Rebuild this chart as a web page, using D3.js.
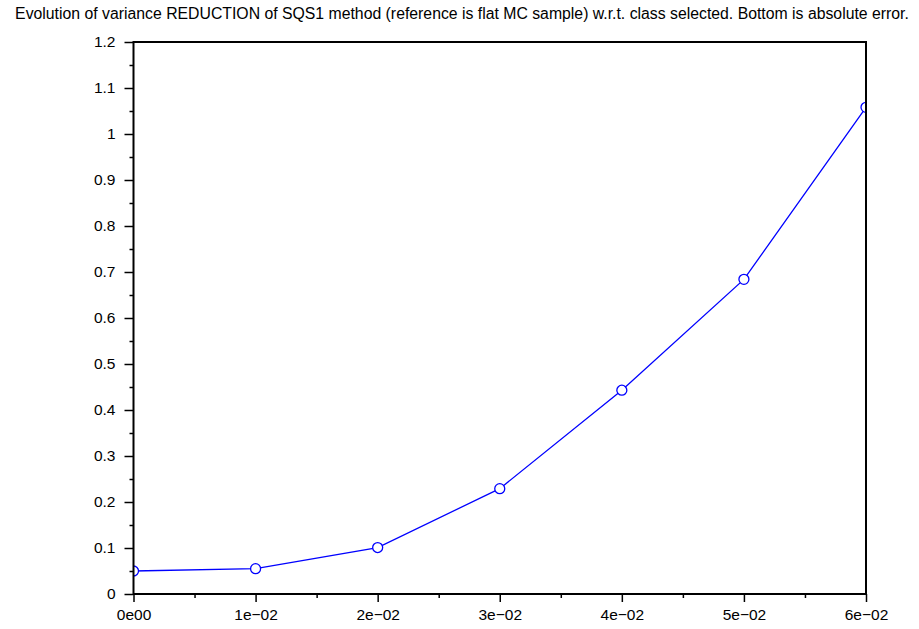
<!DOCTYPE html>
<html><head><meta charset="utf-8">
<script src="https://cdn.jsdelivr.net/npm/d3@7"></script>
<style>body{margin:0;background:#fff}svg{display:block;font-family:"Liberation Sans",Arial,sans-serif}</style>
</head><body>
<svg id="c" width="919" height="629"></svg>
<script>
const title = "Evolution of variance REDUCTION of SQS1 method (reference is flat MC sample) w.r.t. class selected. Bottom is absolute error.";
const xValues = [0, 0.01, 0.02, 0.03, 0.04, 0.05, 0.06];
const yValues = [0.050, 0.055, 0.101, 0.229, 0.443, 0.684, 1.058];
const xTickValues = [0, 0.01, 0.02, 0.03, 0.04, 0.05, 0.06];
const xTickLabels = ["0e00", "1e\u221202", "2e\u221202", "3e\u221202", "4e\u221202", "5e\u221202", "6e\u221202"];
const yTickValues = [0, 0.1, 0.2, 0.3, 0.4, 0.5, 0.6, 0.7, 0.8, 0.9, 1, 1.1, 1.2];
const yTickLabels = ["0", "0.1", "0.2", "0.3", "0.4", "0.5", "0.6", "0.7", "0.8", "0.9", "1", "1.1", "1.2"];
const xMinor = [0.005, 0.015, 0.025, 0.035, 0.045, 0.055];
const yMinor = [0.05, 0.15, 0.25, 0.35, 0.45, 0.55, 0.65, 0.75, 0.85, 0.95, 1.05, 1.15];

const svg = d3.select("#c");
const L = 133.5, R = 866, T = 42, B = 594;
const x = d3.scaleLinear().domain([0, 0.06]).range([L, R]);
const y = d3.scaleLinear().domain([0, 1.2]).range([B, T]);

svg.append("text").attr("x", 462).attr("y", 19).attr("text-anchor", "middle")
  .attr("font-size", 15.8).attr("fill", "#000").text(title);

const xa = svg.append("g").attr("transform", `translate(0,${B})`)
  .call(d3.axisBottom(x).tickValues(xTickValues).tickFormat((d, i) => xTickLabels[i]).tickSize(8).tickPadding(7));
const xm = svg.append("g").attr("transform", `translate(0,${B})`)
  .call(d3.axisBottom(x).tickValues(xMinor).tickFormat("").tickSize(4));
const ya = svg.append("g").attr("transform", `translate(${L},0)`)
  .call(d3.axisLeft(y).tickValues(yTickValues).tickFormat((d, i) => yTickLabels[i]).tickSize(9).tickPadding(9));
const ym = svg.append("g").attr("transform", `translate(${L},0)`)
  .call(d3.axisLeft(y).tickValues(yMinor).tickFormat("").tickSize(4));
[xa, xm, ya, ym].forEach(g => {
  g.select(".domain").remove();
  g.selectAll("line").attr("stroke", "#000").attr("stroke-width", 1.5);
  g.selectAll("text").attr("font-size", 15.5).attr("fill", "#000").attr("font-family", "Liberation Sans, Arial, sans-serif");
});

svg.append("clipPath").attr("id", "clip").append("rect")
  .attr("x", L).attr("y", T).attr("width", R - L).attr("height", B - T);

const data = xValues.map((v, i) => [v, yValues[i]]);
const g = svg.append("g").attr("clip-path", "url(#clip)");
g.append("path").datum(data)
  .attr("d", d3.line().x(d => x(d[0])).y(d => y(d[1])))
  .attr("fill", "none").attr("stroke", "#0000ff").attr("stroke-width", 1.3);
g.selectAll("circle").data(data).join("circle")
  .attr("cx", d => x(d[0])).attr("cy", d => y(d[1])).attr("r", 5)
  .attr("fill", "#fff").attr("stroke", "#0000ff").attr("stroke-width", 1.3);

svg.append("rect").attr("x", L).attr("y", T).attr("width", R - L).attr("height", B - T)
  .attr("fill", "none").attr("stroke", "#000").attr("stroke-width", 2);
</script>
</body></html>
